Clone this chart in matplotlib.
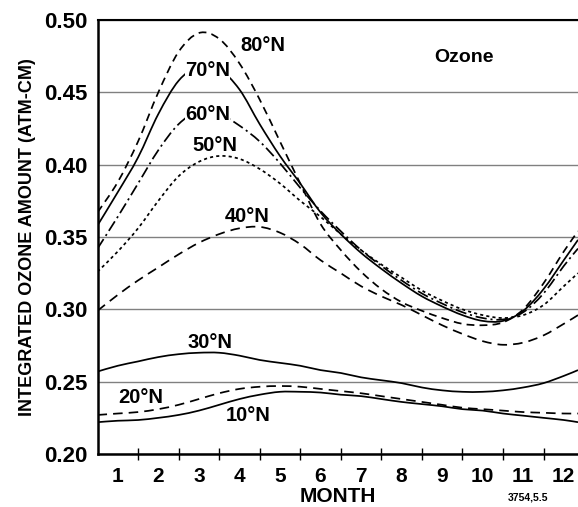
import matplotlib
matplotlib.use("Agg")
import matplotlib.pyplot as plt
from matplotlib.path import Path
from matplotlib.patches import PathPatch

plt.rcParams['font.family'] = ['Liberation Sans', 'DejaVu Sans']

# month positions of the read values
months = [0.5, 1, 1.5, 2, 2.5, 3, 3.5, 4, 4.5, 5, 5.5, 6, 6.5, 7, 7.5, 8,
          8.5, 9, 9.5, 10, 10.5, 11, 11.5, 12, 12.35]

oz_80N = [0.367, 0.388, 0.416, 0.450, 0.478, 0.491, 0.487, 0.470, 0.445, 0.416,
          0.387, 0.359, 0.341, 0.326, 0.314, 0.305, 0.299, 0.294, 0.290, 0.289,
          0.291, 0.300, 0.318, 0.340, 0.354]
oz_70N = [0.358, 0.381, 0.405, 0.435, 0.458, 0.468, 0.466, 0.452, 0.428, 0.406,
          0.387, 0.367, 0.352, 0.339, 0.328, 0.318, 0.309, 0.302, 0.296, 0.292,
          0.292, 0.299, 0.314, 0.334, 0.348]
oz_60N = [0.342, 0.364, 0.387, 0.410, 0.428, 0.437, 0.435, 0.427, 0.416, 0.401,
          0.384, 0.368, 0.354, 0.341, 0.330, 0.320, 0.311, 0.304, 0.298, 0.294,
          0.293, 0.298, 0.311, 0.330, 0.342]
oz_50N = [0.326, 0.340, 0.356, 0.375, 0.392, 0.402, 0.406, 0.404, 0.397, 0.387,
          0.375, 0.364, 0.352, 0.341, 0.331, 0.322, 0.313, 0.306, 0.300, 0.296,
          0.294, 0.296, 0.303, 0.316, 0.325]
oz_40N = [0.299, 0.310, 0.320, 0.329, 0.338, 0.346, 0.352, 0.356, 0.357, 0.353,
          0.345, 0.334, 0.325, 0.316, 0.309, 0.303, 0.296, 0.289, 0.283, 0.278,
          0.2755, 0.277, 0.282, 0.290, 0.296]
oz_30N = [0.257, 0.261, 0.264, 0.267, 0.269, 0.270, 0.270, 0.268, 0.265, 0.263,
          0.261, 0.258, 0.256, 0.253, 0.251, 0.249, 0.246, 0.244, 0.243, 0.243,
          0.244, 0.246, 0.249, 0.254, 0.258]
oz_20N = [0.227, 0.228, 0.229, 0.231, 0.234, 0.238, 0.242, 0.245, 0.2465, 0.247,
          0.2465, 0.245, 0.2435, 0.242, 0.240, 0.238, 0.236, 0.234, 0.232, 0.231,
          0.230, 0.229, 0.2285, 0.228, 0.228]
oz_10N = [0.222, 0.223, 0.2235, 0.225, 0.227, 0.230, 0.234, 0.238, 0.241, 0.243,
          0.243, 0.2425, 0.241, 0.240, 0.238, 0.236, 0.2345, 0.233, 0.231, 0.230,
          0.228, 0.2265, 0.225, 0.2235, 0.222]

series_labels = ['80°N', '70°N', '60°N', '50°N', '40°N', '30°N', '20°N', '10°N']
label_pos = [(4.58, 0.4827), (3.21, 0.4648), (3.21, 0.435), (3.40, 0.4129),
             (4.19, 0.3639), (3.28, 0.2768), (1.56, 0.2391), (4.22, 0.2263)]
label_masked = [False, True, True, False, False, False, False, False]

month_ticks = list(range(1, 13))
month_bounds = [1.5 + i for i in range(11)]
y_ticks = [0.20, 0.25, 0.30, 0.35, 0.40, 0.45, 0.50]


def smooth_path(xs, ys):
    """Bezier path passing through every data point (Catmull-Rom tangents)."""
    pts = list(zip(xs, ys))
    verts = [pts[0]]
    codes = [Path.MOVETO]
    n = len(pts)
    for i in range(n - 1):
        p0 = pts[i - 1] if i > 0 else pts[i]
        p1 = pts[i]
        p2 = pts[i + 1]
        p3 = pts[i + 2] if i + 2 < n else pts[i + 1]
        c1 = (p1[0] + (p2[0] - p0[0]) / 6.0, p1[1] + (p2[1] - p0[1]) / 6.0)
        c2 = (p2[0] - (p3[0] - p1[0]) / 6.0, p2[1] - (p3[1] - p1[1]) / 6.0)
        verts += [c1, c2, p2]
        codes += [Path.CURVE4] * 3
    return Path(verts, codes)


fig = plt.figure(figsize=(5.78, 5.07), dpi=100)
ax = fig.add_axes([0.1687, 0.1045, 1.0 - 0.1687, 0.9606 - 0.1045])

styles = [
    (0, (4.5, 3.0)),
    '-',
    (0, (6.5, 2.2, 1.2, 2.2)),
    (0, (1.8, 1.8)),
    (0, (5.5, 3.5)),
    '-',
    (0, (5.5, 3.5)),
    '-',
]
data = [oz_80N, oz_70N, oz_60N, oz_50N, oz_40N, oz_30N, oz_20N, oz_10N]
for vals, st in zip(data, styles):
    patch = PathPatch(smooth_path(months, vals), fill=False, edgecolor='black',
                      lw=1.25, linestyle=st, zorder=3, capstyle='butt')
    ax.add_patch(patch)

for lab, (x, y), masked in zip(series_labels, label_pos, label_masked):
    kw = {}
    if masked:
        kw['bbox'] = dict(facecolor='white', edgecolor='none', pad=0.2)
    ax.text(x, y, lab, fontsize=14.5, fontweight='bold', ha='center', va='center',
            zorder=4, **kw)

ax.text(9.55, 0.4744, 'Ozone', fontsize=14, fontweight='bold', ha='center', va='center')

ax.set_xlim(0.5, 12.35)
ax.set_ylim(0.20, 0.50)

ax.set_xticks(month_ticks)
ax.set_xticklabels([str(m) for m in month_ticks])
ax.set_xticks(month_bounds, minor=True)
ax.tick_params(axis='x', which='major', length=0, pad=9, labelsize=15)
ax.tick_params(axis='x', which='minor', length=8.5, width=1.0, direction='inout')
for t in ax.get_xticklabels():
    t.set_fontweight('bold')

ax.set_yticks(y_ticks)
ax.set_yticklabels(['%.2f' % v for v in y_ticks])
ax.tick_params(axis='y', length=0, pad=7, labelsize=16)
for t in ax.get_yticklabels():
    t.set_fontweight('bold')

ax.grid(axis='y', color='#808080', lw=1.0)
ax.set_axisbelow(True)

ax.spines['right'].set_visible(False)
ax.spines['left'].set_linewidth(1.8)
ax.spines['bottom'].set_linewidth(1.8)
ax.spines['top'].set_linewidth(1.5)

ax.set_xlabel('MONTH', fontsize=15, fontweight='bold', labelpad=1)
ax.set_ylabel('INTEGRATED OZONE AMOUNT (ATM-CM)', fontsize=13, fontweight='bold', labelpad=6)

fig.text(0.913, 0.018, '3754,5.5', fontsize=7.5, fontweight='bold', ha='center', va='center')

fig.savefig('out.png', dpi=100)
